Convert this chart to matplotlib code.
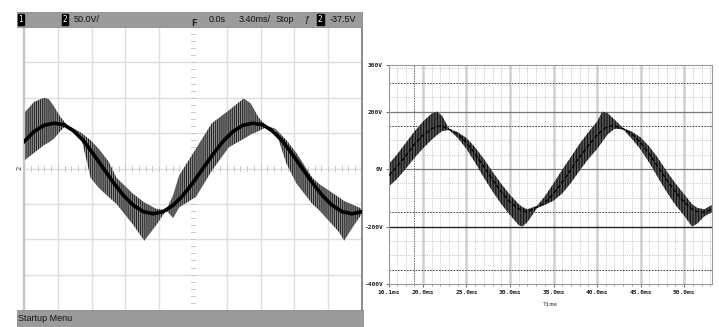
import matplotlib.pyplot as plt
from matplotlib.patches import Rectangle
import numpy as np

plt.rcParams['hatch.linewidth'] = 0.8

# left: scope capture, channel 2, time in ms (3.40 ms/div), volts (50 V/div)
scope_t = [-17, -16, -15, -14.5, -14, -13.4, -12.7, -11.3, -10.3, -9.5, -8.5, -7.7, -6.1, -4.9,
           -3.7, -2.7, -2.0, -1.4, 0.3, 1.9, 3.6, 5.1, 5.8, 6.6, 7.3, 8.3, 9.4, 10.4, 12.0, 12.7,
           14.7, 15.2, 16.2, 17]
scope_up = [78, 94, 100, 98, 88, 74, 62, 51, 40, 28, 10, -13, -35, -48,
            -57, -59, -38, -10, 28, 64, 82, 99, 92, 72, 61, 56, 40, 22, -13, -22,
            -41, -46, -52, -57]
scope_lo = [11, 22, 33, 37, 42, 52, 62, 47, -13, -27, -40, -50, -78, -102,
            -80, -59, -70, -55, -40, -3, 30, 42, 48, 53, 58, 54, 7, -21, -50, -59,
            -90, -102, -80, -64]
scope_mean_t = [-17, -16, -15, -14, -13, -12, -11, -10, -9, -8, -7, -6, -5, -4, -3, -2, -1, 0,
                1, 2, 3, 4, 5, 6, 7, 8, 9, 10, 11, 12, 13, 14, 15, 16, 17]
scope_mean = [38, 52, 61, 64, 62, 53, 39, 20, 0, -20, -38, -52, -61, -64, -61, -52, -38, -20,
              0, 20, 38, 52, 61, 64, 62, 53, 39, 20, 0, -20, -38, -52, -61, -64, -61]

# right: simulation, time in ms, volts
sim_t = [16.1, 17, 18, 19, 20, 21, 21.6, 22.2, 23.0, 24, 25, 26, 27, 28, 29, 30, 31, 31.4, 32,
         33.1, 34, 35, 36, 37, 38, 39, 40, 40.6, 41.2, 42, 43.0, 44, 45, 46, 47, 48, 49, 50,
         50.9, 51.5, 52.3, 53.2]
sim_mean = [-22, 8, 45, 85, 118, 140, 148, 150, 138, 122, 92, 52, 8, -38, -80, -115, -138, -145, -150,
            -132, -118, -85, -45, -2, 42, 82, 118, 135, 148, 150, 140, 122, 92, 52, 8, -38, -80, -115,
            -140, -148, -150, -140]
sim_up = [18, 50, 90, 130, 165, 193, 200, 185, 140, 128, 108, 75, 35, -10, -52, -90, -122, -132, -140,
          -128, -95, -50, -2, 42, 88, 128, 165, 200, 195, 172, 142, 130, 110, 78, 38, -8, -50, -88,
          -122, -135, -140, -125]
sim_lo = [-60, -35, 0, 38, 72, 102, 118, 132, 136, 108, 70, 22, -30, -78, -122, -160, -195, -200, -185,
          -136, -125, -110, -85, -48, -5, 35, 70, 95, 120, 140, 138, 105, 68, 22, -30, -80, -125, -162,
          -200, -190, -165, -150]
sim_xticks = [16.1, 20, 25, 30, 35, 40, 45, 50]
sim_xlabels = ['16.1ms', '20.0ms', '25.0ms', '30.0ms', '35.0ms', '40.0ms', '45.0ms', '50.0ms']
sim_yticks = [362, 200, 0, -200, -400]
sim_ylabels = ['360V', '200V', '0V', '-200V', '-400V']

fig = plt.figure(figsize=(7.19, 3.27), dpi=100)

# ---- scope screen ----
ax1 = fig.add_axes([24 / 719, 17 / 327, 338 / 719, 283 / 327])
ax1.set_xlim(-17, 17)
ax1.set_ylim(-200, 200)
for x in np.arange(-17, 17.01, 3.4):
    if abs(x) > 0.1:
        ax1.axvline(x, color='#dedede', lw=1.0, zorder=0)
for y in np.arange(-150, 151, 50):
    ax1.axhline(y, color='#dedede', lw=1.0, zorder=0)
for x in np.arange(-17, 17.01, 0.68):
    ax1.plot([x, x], [-3, 3], color='#c8c8c8', lw=0.7, zorder=0)
for y in np.arange(-200, 201, 10):
    ax1.plot([-0.2, 0.2], [y, y], color='#c8c8c8', lw=0.7, zorder=0)
ax1.fill_between(scope_t, scope_lo, scope_up, facecolor='#999999', edgecolor='#262626',
                 hatch='||||||||', lw=0, zorder=2)
ax1.plot(scope_mean_t, scope_mean, color='black', lw=2.6, zorder=3)
ax1.set_xticks([])
ax1.set_yticks([])
for s in ['top', 'bottom']:
    ax1.spines[s].set_visible(False)
ax1.spines['left'].set_color('#c4c4c4')
ax1.spines['left'].set_linewidth(1.6)
ax1.spines['right'].set_color('#8a8a8a')
ax1.spines['right'].set_linewidth(1.4)

# status bars
fig.patches.append(Rectangle((17 / 719, 300 / 327), 345 / 719, 15 / 327, transform=fig.transFigure,
                             facecolor='#9b9b9b', edgecolor='#8a8a8a', lw=0.6))
fig.patches.append(Rectangle((17 / 719, 0), 346 / 719, 17 / 327, transform=fig.transFigure,
                             facecolor='#9b9b9b', edgecolor='#8a8a8a', lw=0.6))
bar_y = 307.5 / 327
txt = dict(fontsize=6.5, family='Liberation Sans', va='center', color='#111111')
box = dict(facecolor='black', edgecolor='black', pad=0.6)
fig.text(18.5 / 719, bar_y, '1', color='white', fontsize=5.5, va='center', bbox=box)
fig.text(62.5 / 719, bar_y, '2', color='white', fontsize=5.5, va='center', bbox=box)
fig.text(74 / 719, bar_y, '50.0V/', **txt)
fig.text(209 / 719, bar_y, '0.0s', **txt)
fig.text(239 / 719, bar_y, '3.40ms/', **txt)
fig.text(276 / 719, bar_y, 'Stop', **txt)
fig.text(304 / 719, bar_y, 'ƒ', **txt)
fig.text(318 / 719, bar_y, '2', color='white', fontsize=5.5, va='center', bbox=box)
fig.text(330 / 719, bar_y, '-37.5V', **txt)
fig.text(194 / 719, 303 / 327, 'F', fontsize=6, fontweight='bold', ha='center', va='center', color='#222222')
fig.text(18 / 719, 8.5 / 327, 'Startup Menu', **txt)
fig.text(20 / 719, 159 / 327, '2', fontsize=5, rotation=90, ha='center', va='center', color='#333333')

# ---- simulation plot ----
ax2 = fig.add_axes([389 / 719, 43 / 327, 323 / 719, 219 / 327])
ax2.set_xlim(16.1, 53.2)
ax2.set_ylim(-400, 362)
for x in np.arange(17, 53.1, 1):
    ax2.axvline(x, color='#b8b8b8', lw=0.5, ls=(0, (1.5, 1.5)), zorder=0)
for x in np.arange(20, 51, 5):
    ax2.axvline(x, color='#cfcfcf', lw=1.8, zorder=0)
ax2.axvline(19, color='#555555', lw=0.6, ls=(0, (1.5, 1.5)), zorder=0)
for y in np.arange(-350, 351, 50):
    ax2.axhline(y, color='#b8b8b8', lw=0.5, ls=(0, (1.5, 1.5)), zorder=0)
for y in [300, 150, -150, -350]:
    ax2.axhline(y, color='#444444', lw=0.7, ls=(0, (1.5, 1.5)), zorder=0)
ax2.axhline(200, color='#777777', lw=0.9, zorder=0)
ax2.axhline(0, color='#777777', lw=0.9, zorder=0)
ax2.axhline(-200, color='#222222', lw=1.0, zorder=0)
ax2.fill_between(sim_t, sim_lo, sim_up, facecolor='#555555', edgecolor='#111111',
                 hatch='||||||', lw=0, zorder=2)
ax2.plot(sim_t, sim_mean, color='black', lw=1.0, ls=(0, (3, 1.5)), zorder=3)
ax2.set_xticks(sim_xticks)
ax2.set_xticklabels(sim_xlabels)
ax2.set_xticks(np.arange(17, 53.1, 1), minor=True)
ax2.set_yticks(sim_yticks)
ax2.set_yticklabels(sim_ylabels)
ax2.tick_params(labelsize=4.5, length=2.5, width=0.6, color='#555555', pad=2, labelcolor='#222222')
ax2.tick_params(which='minor', length=1.5, width=0.5, color='#777777')
for lab in ax2.get_xticklabels() + ax2.get_yticklabels():
    lab.set_family('DejaVu Sans Mono')
    lab.set_fontweight('bold')
ax2.set_xlabel('Time', fontsize=4.5, family='DejaVu Sans Mono', color='#333333', labelpad=5)
for s in ax2.spines.values():
    s.set_color('#9a9a9a')
    s.set_linewidth(0.8)

fig.savefig('out.png', dpi=100)
